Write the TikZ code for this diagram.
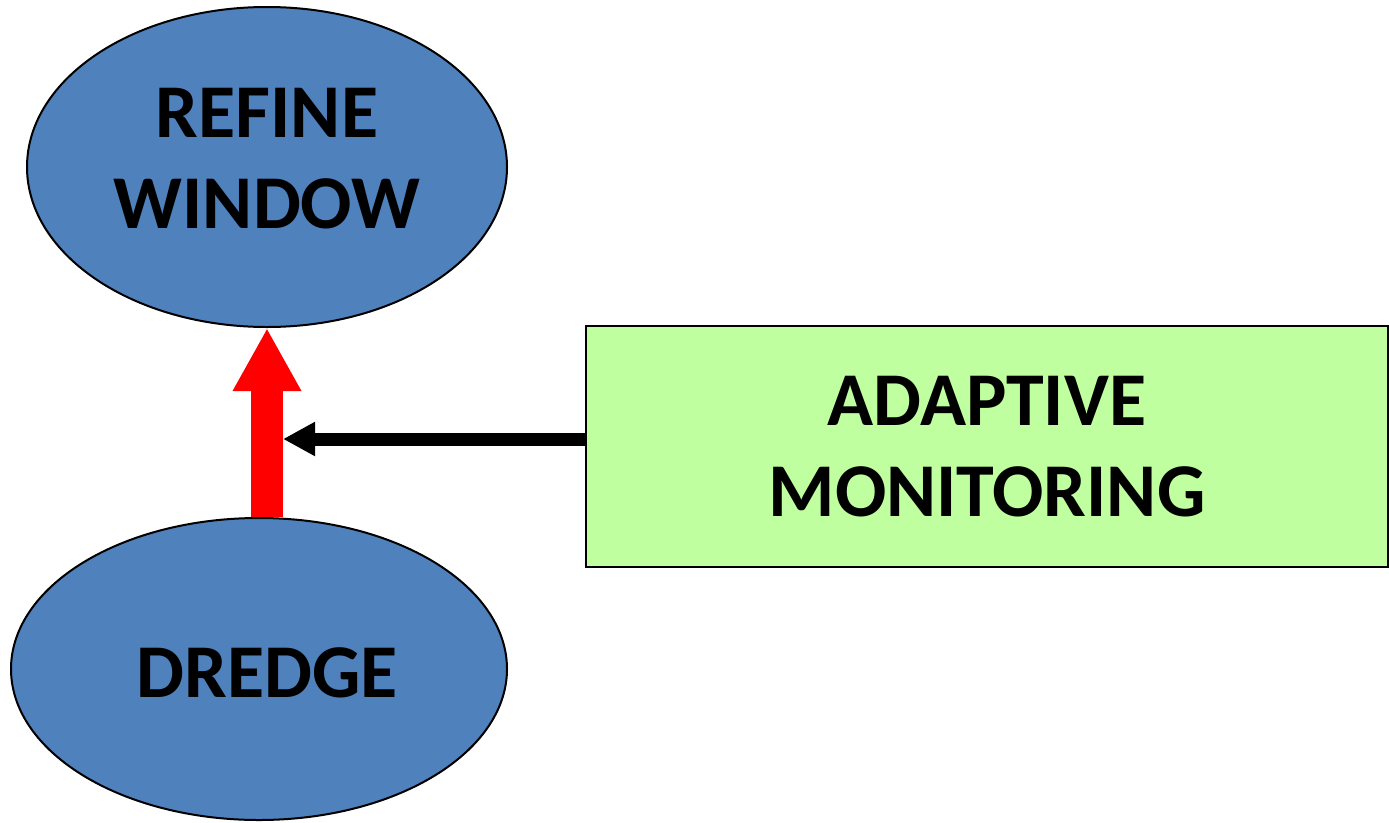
\documentclass[tikz,border=0pt]{standalone}
\usepackage{fontspec}
\setmainfont{Carlito}
\usetikzlibrary{shapes.geometric,arrows.meta}
\definecolor{blobblue}{HTML}{4F81BD}
\definecolor{boxgreen}{HTML}{C0FFA0}

\begin{document}
\begin{tikzpicture}[x=1pt,y=-1pt]

        \useasboundingbox (0,0) rectangle (1389,822);

        \begin{scope}[every node/.style={draw, line width=2pt, inner sep=0pt, align=center,
            font=\bfseries\fontsize{76}{91}\selectfont}]
          \node[ellipse, fill=blobblue, minimum width=480pt, minimum height=320pt, text depth=18pt]
            (win) at (267,167) {REFINE\\WINDOW};
          \node[ellipse, fill=blobblue, minimum width=496pt, minimum height=302pt, text height=58pt]
            (dre) at (259,669) {\hspace*{16pt}DREDGE};
          \node[rectangle, fill=boxgreen, minimum width=802pt, minimum height=241pt]
            (mon) at (987,446.5) {ADAPTIVE\\MONITORING};
        \end{scope}

        \coordinate (hit) at (283,439);

        \draw[red, line width=32pt, -{Triangle[width=64pt,length=63pt]}] (win.south |- dre.north) -- (win.south);
        \draw[line width=13pt, -{Triangle[width=32pt,length=32pt]}] (mon.west |- hit) -- (hit);

\end{tikzpicture}
\end{document}
